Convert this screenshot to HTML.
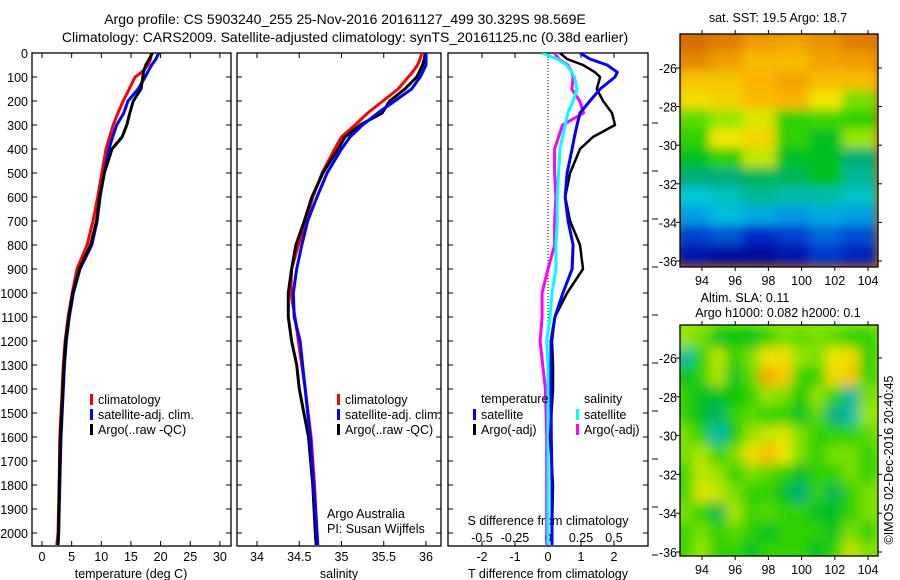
<!DOCTYPE html>
<html><head><meta charset="utf-8"><style>
html,body{margin:0;padding:0;background:#fff}
svg{display:block;font-family:"Liberation Sans",sans-serif}
text{font-size:12.5px;fill:#000}
</style></head><body>
<svg id="fig" width="900" height="580" viewBox="0 0 900 580">
<defs>
<clipPath id="c1"><rect x="32" y="53" width="199" height="493"/></clipPath>
<clipPath id="c2"><rect x="237" y="53" width="204" height="493"/></clipPath>
<clipPath id="c3"><rect x="448" y="53" width="200" height="493"/></clipPath>
<clipPath id="cm1"><rect x="680" y="34" width="198" height="233"/></clipPath>
<clipPath id="cm2"><rect x="680" y="325" width="198" height="231"/></clipPath>
<filter id="bl" x="-5%" y="-5%" width="110%" height="110%"><feGaussianBlur stdDeviation="5"/></filter>
<filter id="bl2" x="-5%" y="-5%" width="110%" height="110%"><feGaussianBlur stdDeviation="6"/></filter>
</defs>
<text x="345" y="24" text-anchor="middle" style="font-size:14px">Argo profile: CS 5903240_255 25-Nov-2016 20161127_499 30.329S 98.569E</text>
<text x="345" y="42" text-anchor="middle" style="font-size:14px">Climatology: CARS2009. Satellite-adjusted climatology: synTS_20161125.nc (0.38d earlier)</text>
<g id="g"></g>
</svg>
<script>
// ---- Depth grid (m) ----
const depths = [0,25,50,80,100,150,200,250,300,350,400,500,600,700,800,900,1000,1100,1200,1300,1400,1600,1800,2000,2050];
// Temperature (deg C)
const tempClim = [18.5,18.3,17.9,16.8,15.7,14.7,13.7,12.8,12.0,11.4,10.8,10.1,9.4,8.6,7.6,5.9,5.1,4.4,3.9,3.6,3.4,3.0,2.9,2.7,2.5];
const tempSat  = [19.7,19.2,18.5,17.8,17.4,16.2,14.5,13.8,12.6,11.9,11.3,10.5,9.8,9.3,8.4,6.4,5.3,4.6,4.1,3.8,3.6,3.2,3.0,2.8,2.7];
const tempArgo = [18.6,18.1,17.5,17.1,17.0,16.7,15.4,14.8,14.3,13.5,11.8,10.5,9.7,9.2,8.2,6.3,5.2,4.5,4.0,3.7,3.5,3.1,2.9,2.8,2.7];
// Salinity
const salClim = [35.95,35.93,35.9,35.84,35.79,35.67,35.49,35.31,35.16,35.0,34.92,34.77,34.66,34.58,34.49,34.41,34.40,34.45,34.49,34.53,34.57,34.64,34.68,34.71,34.72];
const salSat  = [36.0,36.0,36.0,35.96,35.93,35.83,35.63,35.43,35.25,35.1,35.0,34.83,34.71,34.6,34.53,34.47,34.43,34.44,34.51,34.54,34.57,34.63,34.67,34.71,34.72];
const salArgo = [35.99,35.98,35.96,35.92,35.89,35.75,35.57,35.48,35.22,35.04,34.96,34.78,34.65,34.56,34.46,34.41,34.37,34.37,34.41,34.47,34.5,34.61,34.66,34.69,34.70];
// Differences from climatology
const dTsat  = [0.97,1.27,1.79,2.1,2.03,1.58,1.27,0.97,0.88,0.8,0.73,0.58,0.52,0.61,0.76,0.73,0.45,0.21,0.09,0.09,0.09,0.1,0.12,0.12,0.12];
const dTargo = [0.36,0.58,1.06,1.42,1.58,1.48,1.67,1.94,2.03,1.36,0.97,0.67,0.52,0.67,0.97,1.06,0.58,0.21,0.12,0.15,0.15,0.06,0.15,0.12,0.12];
const dSsat  = [-0.045,0.07,0.14,0.18,0.2,0.22,0.19,0.15,0.13,0.11,0.09,0.08,0.07,0.07,0.06,0.06,0.03,0.015,-0.01,0,0,0,0,0,0];
const dSargo = [0.05,0.08,0.15,0.18,0.19,0.18,0.24,0.27,0.11,0.08,0.05,0.05,0.06,0.05,0.05,0,-0.045,-0.045,-0.06,-0.04,-0.02,-0.01,-0.01,-0.01,-0.01];
// Tick labels
const depthTicks = [0,100,200,300,400,500,600,700,800,900,1000,1100,1200,1300,1400,1500,1600,1700,1800,1900,2000];
const tTicks = [0,5,10,15,20,25,30];
const sTicks = [34,34.5,35,35.5,36];
const dTTicks = [-2,-1,0,1,2];
const dSTicks = [-0.5,-0.25,0,0.25,0.5];
const lonTicks = [94,96,98,100,102,104];
const latTicks = [-26,-28,-30,-32,-34,-36];
// Map fields (rows = latitude -25..-36, cols)
const sstLons = [93.5,95.5,97.5,99.5,101.5,103.5];
const sstLats = [-24.7,-25.7,-26.7,-27.7,-28.7,-29.7,-30.7,-31.7,-32.7,-33.7,-34.7,-35.7];
const sstField = [
[0.95,0.92,0.86,0.85,0.88,0.92],
[0.9,0.86,0.8,0.8,0.85,0.86],
[0.78,0.78,0.82,0.85,0.8,0.8],
[0.72,0.75,0.8,0.82,0.7,0.6],
[0.58,0.62,0.68,0.55,0.56,0.55],
[0.55,0.7,0.74,0.55,0.5,0.62],
[0.5,0.55,0.66,0.5,0.5,0.45],
[0.45,0.45,0.47,0.47,0.5,0.42],
[0.35,0.38,0.42,0.4,0.4,0.37],
[0.28,0.33,0.3,0.27,0.3,0.28],
[0.15,0.18,0.12,0.15,0.2,0.17],
[0.07,0.05,0.04,0.07,0.14,0.1]];
const slaLons = [93,94,95,96,97,98,99,100,101,102,103,104];
const slaLats = [-25,-26,-27,-28,-29,-30,-31,-32,-33,-34,-35,-36];
const slaField = [
[.62,.6,.5,.52,.5,.55,.6,.58,.6,.58,.55,.55],
[.4,.55,.65,.55,.6,.7,.72,.62,.6,.7,.72,.55],
[.5,.55,.64,.5,.58,.84,.76,.55,.55,.72,.78,.55],
[.55,.5,.5,.52,.55,.62,.6,.52,.62,.55,.42,.6],
[.55,.5,.46,.55,.58,.55,.55,.5,.58,.45,.4,.62],
[.6,.55,.4,.52,.62,.66,.68,.6,.55,.55,.55,.58],
[.6,.64,.55,.6,.72,.8,.7,.6,.55,.6,.6,.55],
[.55,.66,.62,.55,.6,.58,.55,.5,.55,.55,.6,.55],
[.55,.68,.66,.6,.55,.55,.5,.45,.55,.47,.55,.6],
[.6,.55,.48,.64,.55,.58,.55,.55,.5,.5,.55,.6],
[.55,.6,.55,.58,.55,.5,.55,.55,.55,.5,.6,.55],
[.55,.62,.55,.55,.5,.55,.55,.55,.5,.55,.66,.6]];

const NS='http://www.w3.org/2000/svg';
const G=document.getElementById('g');
function mk(tag,attrs,parent){const e=document.createElementNS(NS,tag);for(const k in attrs)e.setAttribute(k,attrs[k]);(parent||G).appendChild(e);return e;}
function yD(d){return 53+d*0.24;}
const xT=t=>42+t*5.93, xS=s=>257+(s-34)*84.5, xDT=v=>548+v*33, xDS=v=>548+v*132;

function frame(x0,x1,name){
  const r=mk('rect',{x:x0,y:53,width:x1-x0,height:493,fill:'none',stroke:'#000','stroke-width':1.3});
  
  
  depthTicks.forEach(d=>{
    mk('line',{x1:x0,x2:x0+5,y1:yD(d),y2:yD(d),stroke:'#000'});
    mk('line',{x1:x1,x2:x1-5,y1:yD(d),y2:yD(d),stroke:'#000'});
  });
}
function xticks(vals,fx,name,ly){
  vals.forEach(v=>{
    const x=fx(v);
    mk('line',{x1:x,x2:x,y1:546,y2:541,stroke:'#000'});
    mk('line',{x1:x,x2:x,y1:53,y2:58,stroke:'#000'});
    if(ly){const t=mk('text',{x:x,y:ly,'text-anchor':'middle'});t.textContent=v;
      
      }
  });
}
function line(xs,fx,color,clip,name,w){
  const pts=depths.map((d,i)=>fx(xs[i]).toFixed(1)+','+yD(d).toFixed(1)).join(' ');
  const p=mk('polyline',{points:pts,fill:'none',stroke:color,'stroke-width':w||3,'clip-path':'url(#'+clip+')','stroke-linejoin':'round'});
  
  
}
function txt(x,y,s,name,anchor,size){
  const t=mk('text',{x:x,y:y,'text-anchor':anchor||'start'});
  if(size)t.setAttribute('style','font-size:'+size+'px');
  t.textContent=s;
  
  
  return t;
}
function legendItem(x,y,color,label,name){
  mk('rect',{x:x,y:y-9,width:3,height:11,fill:color});
  txt(x+8,y+1,label,name);
}

// Panel 1: temperature
frame(32,231,'temperature-panel-frame');
depthTicks.forEach(d=>{const t=txt(28,yD(d)+5,d,'depth-tick-label','end');});
xticks(tTicks,xT,'temperature-tick-label',561);
txt(131,578,'temperature (deg C)','temperature-axis-title','middle');
line(tempClim,xT,'#f00','c1','temp-climatology-line');
line(tempSat,xT,'#00f','c1','temp-satellite-line');
line(tempArgo,xT,'#000','c1','temp-argo-line');
legendItem(90,403,'#f00','climatology','legend-climatology');
legendItem(90,418,'#00f','satellite-adj. clim.','legend-satellite-adj');
legendItem(90,433,'#000','Argo(..raw -QC)','legend-argo');

// Panel 2: salinity
frame(237,441,'salinity-panel-frame');
xticks(sTicks,xS,'salinity-tick-label',561);
txt(339,578,'salinity','salinity-axis-title','middle');
line(salClim,xS,'#f00','c2','sal-climatology-line');
line(salArgo,xS,'#000','c2','sal-argo-line');
line(salSat,xS,'#00f','c2','sal-satellite-line');
legendItem(337,403,'#f00','climatology','legend-climatology');
legendItem(337,418,'#00f','satellite-adj. clim.','legend-satellite-adj');
legendItem(337,433,'#000','Argo(..raw -QC)','legend-argo');
txt(327,518,'Argo Australia','credit-argo-australia');
txt(327,533,'PI: Susan Wijffels','credit-pi');

// Panel 3: differences
frame(448,648,'difference-panel-frame');
mk('line',{x1:548,x2:548,y1:53,y2:546,stroke:'#000','stroke-dasharray':'1,2'});
xticks(dTTicks,xDT,'t-diff-tick-label',561);
dSTicks.forEach(v=>{const t=txt(xDS(v),542,v,'s-diff-tick-label','middle');});
txt(548,525,'S difference from climatology','s-diff-title','middle');
txt(548,578,'T difference from climatology','t-diff-axis-title','middle');
depthTicks.forEach(d=>{if(d%200===100||d===0)return;mk('line',{x1:652,x2:658,y1:yD(d)+22,y2:yD(d)+22,stroke:'#000'});});
line(dSargo,xDS,'#f0f','c3','s-diff-argo-line');
line(dSsat,xDS,'#0ff','c3','s-diff-satellite-line');
line(dTargo,xDT,'#000','c3','t-diff-argo-line',2.5);
line(dTsat,xDT,'#00f','c3','t-diff-satellite-line');
txt(481,403,'temperature','legend-temperature-header');
legendItem(473,418,'#00f','satellite','legend-t-satellite');
legendItem(473,433,'#000','Argo(-adj)','legend-t-argo');
txt(584,403,'salinity','legend-salinity-header');
legendItem(576,418,'#0ff','satellite','legend-s-satellite');
legendItem(576,433,'#f0f','Argo(-adj)','legend-s-argo');

// Colormaps
const stops=[[0,[0,0,130]],[0.12,[0,40,200]],[0.25,[0,140,230]],[0.35,[0,200,220]],[0.45,[0,175,120]],[0.52,[0,200,0]],[0.62,[150,230,0]],[0.7,[240,230,0]],[0.82,[250,180,0]],[0.95,[215,110,0]],[1,[200,90,0]]];
function cmap(v){for(let i=1;i<stops.length;i++){if(v<=stops[i][0]){const a=stops[i-1],b=stops[i];const f=(v-a[0])/(b[0]-a[0]);const c=a[1].map((q,k)=>Math.round(q+(b[1][k]-q)*f));return 'rgb('+c.join(',')+')';}}return 'rgb(200,90,0)';}

function drawMap(lons,lats,field,dlon,dlat,fx,fy,clip,filt,name,box){
  mk('rect',{x:box[0],y:box[1],width:box[2],height:box[3],fill:cmap(field[0][0])});
  const gm=mk('g',{'clip-path':'url(#'+clip+')'});
  
  
  const inner=mk('g',{filter:'url(#'+filt+')'},gm);
  lats.forEach((la,i)=>lons.forEach((lo,j)=>{
    const x0=fx(lo-dlon/2)-1,x1=fx(lo+dlon/2)+1,y0=fy(la+dlat/2)-1,y1=fy(la-dlat/2)+1;
    mk('rect',{x:x0,y:y0,width:x1-x0,height:y1-y0,fill:cmap(field[i][j])},inner);
  }));
  const fr=mk('rect',{x:box[0],y:box[1],width:box[2],height:box[3],fill:'none',stroke:'#000','stroke-width':1.3});
  lonTicks.forEach(v=>{const x=fx(v);
    mk('line',{x1:x,x2:x,y1:box[1],y2:box[1]-4,stroke:'#000'});
    mk('line',{x1:x,x2:x,y1:box[1]+box[3],y2:box[1]+box[3]+4,stroke:'#000'});
    txt(x,box[1]+box[3]+18,v,'longitude-tick-label','middle');});
  latTicks.forEach(v=>{const y=fy(v);
    mk('line',{x1:box[0],x2:box[0]-4,y1:y,y2:y,stroke:'#000'});
    mk('line',{x1:box[0]+box[2],x2:box[0]+box[2]+4,y1:y,y2:y,stroke:'#000'});
    txt(box[0]-3,y+5,v,'latitude-tick-label','end');});
}
const mxLon=v=>702+(v-94)*16.6;
drawMap(sstLons,sstLats,sstField,2,1,mxLon,v=>68+(-26-v)*19.3,'cm1','bl','sst-map',[680,34,198,233]);
drawMap(slaLons,slaLats,slaField,1,1,mxLon,v=>358+(-26-v)*19.4,'cm2','bl2','sla-map',[680,325,198,231]);
txt(778,22,'sat. SST: 19.5 Argo: 18.7','sst-map-title','middle');
txt(745,302,'Altim. SLA: 0.11','sla-map-title','middle');
txt(778,317,'Argo h1000: 0.082 h2000: 0.1','argo-height-title','middle');
const cr=txt(0,0,'\u00a9IMOS 02-Dec-2016 20:40:45','imos-credit','middle');
cr.setAttribute('transform','translate(893,460) rotate(-90)');
</script>
</body></html>
